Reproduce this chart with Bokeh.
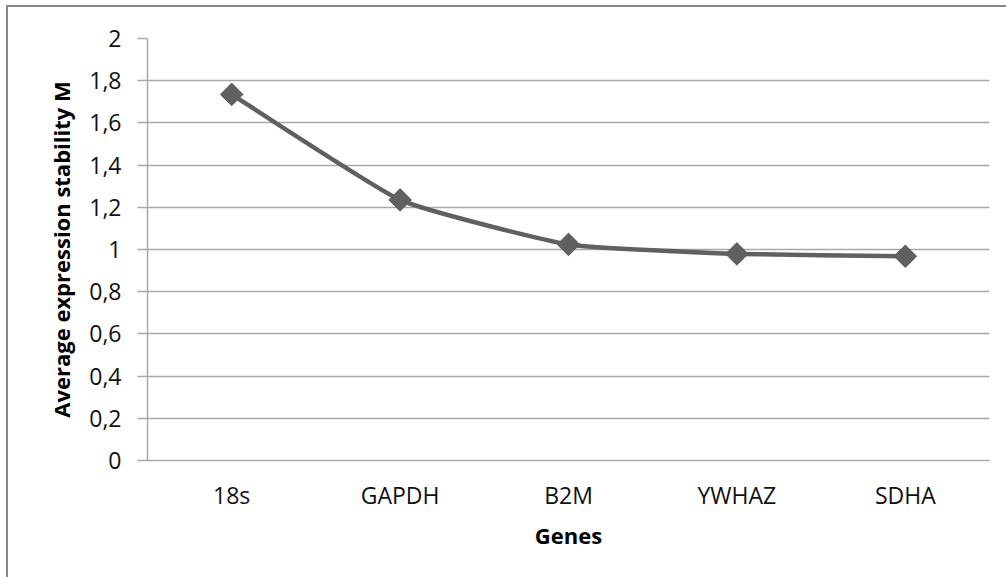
from bokeh.plotting import figure
from bokeh.models import Range1d, FixedTicker, CustomJSTickFormatter
from bokeh.embed import file_html
from bokeh.resources import INLINE

# Reference genes and their geNorm average expression stability (M)
genes = ["18s", "GAPDH", "B2M", "YWHAZ", "SDHA"]
stability_m = [1.735, 1.235, 1.024, 0.979, 0.968]
y_ticks = [0, 0.2, 0.4, 0.6, 0.8, 1.0, 1.2, 1.4, 1.6, 1.8, 2.0]

LINE = "#606060"
GRID = "#a8a8a8"
FONT = "Open Sans"
SMOOTH = 1 / 14  # tangent scale of the smoothed line

# each gene sits at the middle of its own category slot
xs = [i + 0.5 for i in range(len(genes))]

p = figure(
    width=1000, height=575,
    x_range=Range1d(0, len(genes)), y_range=Range1d(0, 2),
    output_backend="svg", toolbar_location=None,
    min_border_left=139, min_border_right=19,
    min_border_top=31, min_border_bottom=122,
)
p.margin = (5, 0, 0, 6)
p.styles = {"border-left": "2px solid #878787", "border-top": "2px solid #878787"}
p.outline_line_color = None
p.background_fill_color = "white"
p.border_fill_color = "white"

# smoothed line: cubic Bezier segments through the points
x0s, y0s, x1s, y1s, cx0, cy0, cx1, cy1 = [], [], [], [], [], [], [], []
n = len(xs)
for i in range(n - 1):
    pa = (xs[max(i - 1, 0)], stability_m[max(i - 1, 0)])
    pb = (xs[i], stability_m[i])
    pc = (xs[i + 1], stability_m[i + 1])
    pd = (xs[min(i + 2, n - 1)], stability_m[min(i + 2, n - 1)])
    x0s.append(pb[0]); y0s.append(pb[1])
    x1s.append(pc[0]); y1s.append(pc[1])
    cx0.append(pb[0] + (pc[0] - pa[0]) * SMOOTH); cy0.append(pb[1] + (pc[1] - pa[1]) * SMOOTH)
    cx1.append(pc[0] - (pd[0] - pb[0]) * SMOOTH); cy1.append(pc[1] - (pd[1] - pb[1]) * SMOOTH)

p.bezier(x0=x0s, y0=y0s, x1=x1s, y1=y1s, cx0=cx0, cy0=cy0, cx1=cx1, cy1=cy1,
         line_color=LINE, line_width=4.5)
p.scatter(xs, stability_m, marker="square", size=16, angle=0.785398,
          fill_color=LINE, line_color=LINE)

# x axis: category names, no ticks
p.xaxis.ticker = FixedTicker(ticks=xs)
p.xaxis.major_label_overrides = {x: g for x, g in zip(xs, genes)}
p.xaxis.major_tick_line_color = None
p.xaxis.minor_tick_line_color = None
p.xaxis.axis_line_color = GRID
p.xaxis.axis_line_width = 1.5
p.xaxis.major_label_standoff = 12
p.xaxis.axis_label = "Genes"
p.xaxis.axis_label_standoff = 6

# y axis: decimal comma labels
p.yaxis.ticker = FixedTicker(ticks=y_ticks)
p.yaxis.formatter = CustomJSTickFormatter(
    code="return (Math.round(tick * 10) / 10).toString().replace('.', ',');")
p.yaxis.major_tick_in = 0
p.yaxis.major_tick_out = 10
p.yaxis.major_tick_line_color = GRID
p.yaxis.major_tick_line_width = 1.5
p.yaxis.minor_tick_line_color = None
p.yaxis.axis_line_color = GRID
p.yaxis.axis_line_width = 1.5
p.yaxis.major_label_standoff = 16
p.yaxis.axis_label = "Average expression stability M"
p.yaxis.axis_label_standoff = 10

for ax in (p.xaxis, p.yaxis):
    ax.major_label_text_font = FONT
    ax.major_label_text_font_size = "23px"
    ax.major_label_text_color = "#111111"
    ax.axis_label_text_font = FONT
    ax.axis_label_text_font_size = "22px"
    ax.axis_label_text_font_style = "bold"
    ax.axis_label_text_color = "#000000"

p.xgrid.grid_line_color = None
p.ygrid.ticker = FixedTicker(ticks=y_ticks)
p.ygrid.grid_line_color = GRID
p.ygrid.grid_line_width = 1.5

open("out.html", "w").write(file_html(p, INLINE))
